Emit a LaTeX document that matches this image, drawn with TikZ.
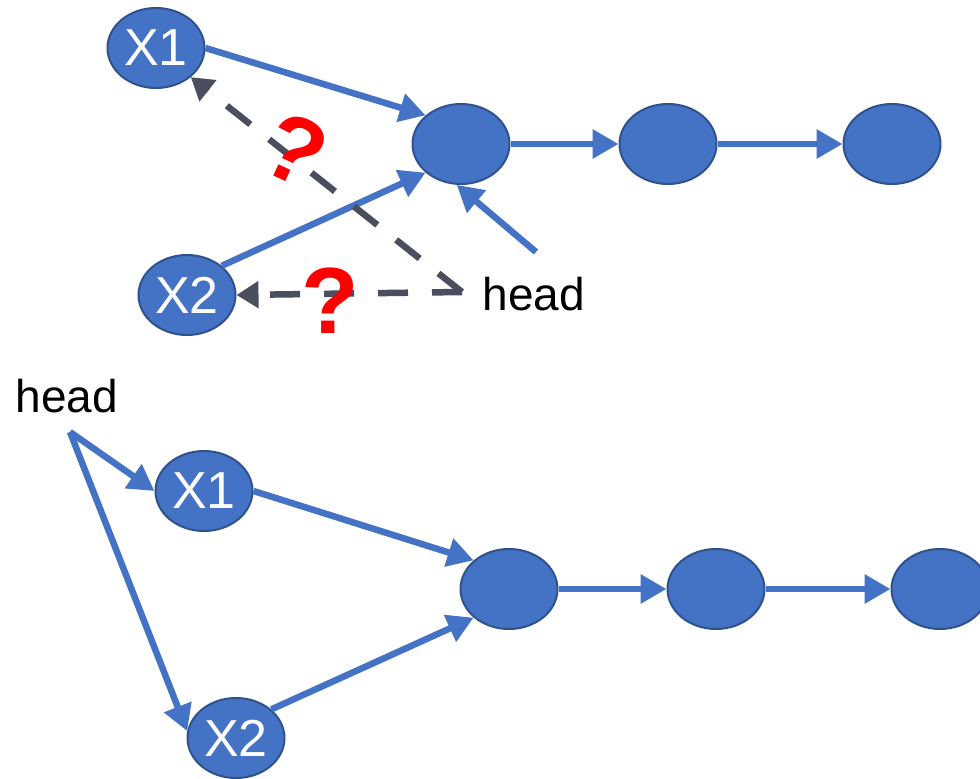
\documentclass[tikz,border=0pt]{standalone}
\usepackage{fontspec}
\setmainfont{Liberation Sans}
\usetikzlibrary{arrows.meta,shapes.geometric}
\definecolor{nodeblue}{HTML}{4472C4}
\definecolor{nodeedge}{HTML}{2F528F}
\definecolor{dashgray}{HTML}{4A4E5E}
\definecolor{qred}{HTML}{FF0000}
\tikzset{
  ll/.style={ellipse, fill=nodeblue, draw=nodeedge, line width=2pt, minimum width=97pt, minimum height=80pt, inner sep=0pt, text=white, font=\fontsize{52}{52}\selectfont},
  lbl/.style={inner sep=0pt, font=\fontsize{46}{46}\selectfont},
  barrow/.style={draw=nodeblue, line width=6.5pt, -{Triangle[length=26pt,width=28pt]}},
  darrow/.style={draw=dashgray, line width=6.5pt, dash pattern=on 30pt off 24pt, -{Triangle[length=22pt,width=26pt]}},
  qmark/.style={inner sep=0pt, text=qred, font=\fontsize{94}{94}\selectfont\bfseries}
}
\begin{document}
\begin{tikzpicture}[x=1pt,y=-1pt]
\useasboundingbox (0,0) rectangle (980,779);
% top diagram
\node[ll] (tX1) at (156,48) {X1};
\node[ll] (tA) at (461,144) {};
\node[ll] (tB) at (668,144) {};
\node[ll] (tC) at (892,144) {};
\node[ll] (tX2) at (187,295) {X2};
\node[lbl] (thead) at (534,294) {head};
\coordinate (tdash) at (462,292);
\coordinate (tup) at (536,252);
\draw[barrow] (tX1.east) -- (tA.141);
\draw[barrow] (tX2.40) -- (tA.219);
\draw[barrow] (tup) -- (tA.264);
\draw[barrow] (tA.east) -- (tB.west);
\draw[barrow] (tB.east) -- (tC.west);
\draw[darrow] (tdash) -- (tX1.-40);
\draw[darrow] (tdash) -- (tX2.east);
\node[qmark, rotate=-25] (q1) at (295,150) {?};
\node[qmark] (q2) at (330,301) {?};
% bottom diagram
\node[lbl] (bhead) at (67,396) {head};
\coordinate (bhp) at (70,432);
\node[ll] (bX1) at (204,491) {X1};
\node[ll] (bX2) at (236,738) {X2};
\node[ll] (bA) at (509,589) {};
\node[ll] (bB) at (716,589) {};
\node[ll] (bC) at (940,589) {};
\draw[barrow] (bhp) -- (bX1.west);
\draw[barrow] (bhp) -- (bX2.172);
\draw[barrow] (bX1.east) -- (bA.141);
\draw[barrow] (bX2.39) -- (bA.219);
\draw[barrow] (bA.east) -- (bB.west);
\draw[barrow] (bB.east) -- (bC.west);
\end{tikzpicture}
\end{document}
